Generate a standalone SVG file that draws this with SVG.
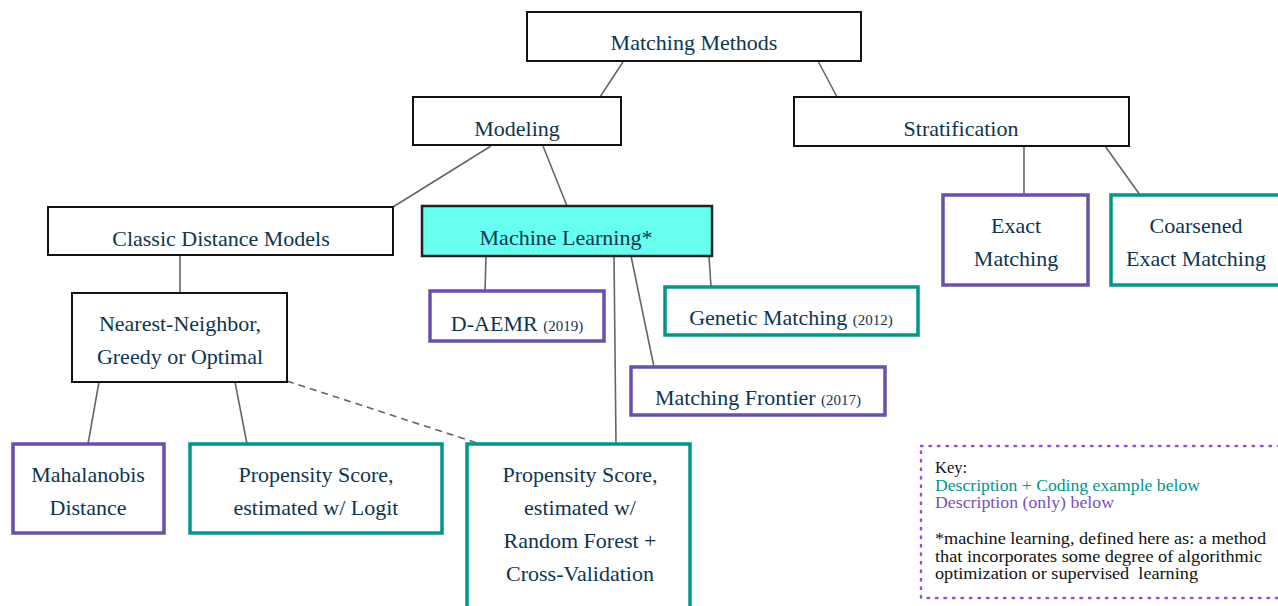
<svg xmlns="http://www.w3.org/2000/svg" width="1278" height="606" viewBox="0 0 1278 606">
<style>
.t{font-family:"Liberation Serif","DejaVu Serif",serif;font-size:22px;fill:#0d3550;text-anchor:middle}
.y{font-size:15px}
.b{fill:#fff;stroke:#111;stroke-width:2}
.p{fill:#fff;stroke:#6a50a8;stroke-width:3.5}
.g{fill:#fff;stroke:#00968a;stroke-width:3.5}
.c line{stroke:#666;stroke-width:1.6}
.k{font-family:"Liberation Serif","DejaVu Serif",serif;font-size:16px;fill:#111}
</style>
<rect width="1278" height="606" fill="#fff"/>
<g class="c" id="connectors">
<line x1="623" y1="62" x2="600" y2="97"/>
<line x1="818" y1="61" x2="837" y2="97"/>
<line x1="491" y1="146" x2="393" y2="207"/>
<line x1="543" y1="146" x2="567" y2="206"/>
<line x1="1024" y1="146" x2="1024" y2="195"/>
<line x1="1105" y1="146" x2="1140" y2="195"/>
<line x1="180" y1="255" x2="180" y2="293"/>
<line x1="486" y1="256" x2="485" y2="291"/>
<line x1="709" y1="256" x2="711" y2="287"/>
<line x1="631" y1="256" x2="654" y2="367"/>
<line x1="614" y1="256" x2="616" y2="444"/>
<line x1="99" y1="382" x2="88" y2="444"/>
<line x1="235" y1="382" x2="247" y2="444"/>
<line x1="287" y1="381" x2="480" y2="444" stroke-dasharray="7,5"/>
</g>
<g id="matching-methods"><rect class="b" x="527" y="12" width="334" height="49"/><text class="t" x="694" y="50">Matching Methods</text></g>
<g id="modeling"><rect class="b" x="413" y="97" width="208" height="48"/><text class="t" x="517" y="136">Modeling</text></g>
<g id="stratification"><rect class="b" x="794" y="97" width="335" height="49"/><text class="t" x="961" y="136">Stratification</text></g>
<g id="classic"><rect class="b" x="48" y="207" width="345" height="48"/><text class="t" x="221" y="246">Classic Distance Models</text></g>
<g id="ml"><rect x="422" y="206" width="290" height="50" fill="#66fff0" stroke="#222" stroke-width="2.5"/><text class="t" x="566" y="245">Machine Learning*</text></g>
<g id="exact"><rect class="p" x="943" y="195" width="145" height="90"/><text class="t" x="1016" y="233">Exact</text><text class="t" x="1016" y="266">Matching</text></g>
<g id="coarsened"><rect class="g" x="1111" y="195" width="175" height="90"/><text class="t" x="1196" y="233">Coarsened</text><text class="t" x="1196" y="266">Exact Matching</text></g>
<g id="nn"><rect class="b" x="72" y="293" width="215" height="89"/><text class="t" x="180" y="331">Nearest-Neighbor,</text><text class="t" x="180" y="364">Greedy or Optimal</text></g>
<g id="daemr"><rect class="p" x="430" y="291" width="174" height="50"/><text class="t" x="517" y="331">D-AEMR <tspan class="y">(2019)</tspan></text></g>
<g id="genetic"><rect class="g" x="665" y="287" width="253" height="48"/><text class="t" x="791" y="325">Genetic Matching <tspan class="y">(2012)</tspan></text></g>
<g id="frontier"><rect class="p" x="631" y="367" width="254" height="48"/><text class="t" x="758" y="405">Matching Frontier <tspan class="y">(2017)</tspan></text></g>
<g id="mahalanobis"><rect class="p" x="13" y="444" width="151" height="89"/><text class="t" x="88" y="482">Mahalanobis</text><text class="t" x="88" y="515">Distance</text></g>
<g id="ps-logit"><rect class="g" x="190" y="444" width="252" height="89"/><text class="t" x="316" y="482">Propensity Score,</text><text class="t" x="316" y="515">estimated w/ Logit</text></g>
<g id="ps-rf"><rect class="g" x="467" y="444" width="223" height="170"/><text class="t" x="580" y="482">Propensity Score,</text><text class="t" x="580" y="515">estimated w/</text><text class="t" x="580" y="548">Random Forest +</text><text class="t" x="580" y="581">Cross-Validation</text></g>
<g id="key">
<rect x="921" y="446" width="370" height="152" fill="none" stroke="#9b4fd6" stroke-width="2.5" stroke-dasharray="1.5,7" stroke-linecap="round"/>
<text class="k" x="935" y="473" textLength="32" lengthAdjust="spacingAndGlyphs">Key:</text>
<text class="k" x="935" y="491" style="fill:#00968a" textLength="265" lengthAdjust="spacingAndGlyphs">Description + Coding example below</text>
<text class="k" x="935" y="508" style="fill:#7a4fb8" textLength="179" lengthAdjust="spacingAndGlyphs">Description (only) below</text>
<text class="k" x="935" y="544" textLength="331" lengthAdjust="spacingAndGlyphs">*machine learning, defined here as: a method</text>
<text class="k" x="935" y="562" textLength="327" lengthAdjust="spacingAndGlyphs">that incorporates some degree of algorithmic</text>
<text class="k" x="935" y="579" xml:space="preserve" textLength="263" lengthAdjust="spacingAndGlyphs">optimization or supervised  learning</text>
</g>
</svg>
